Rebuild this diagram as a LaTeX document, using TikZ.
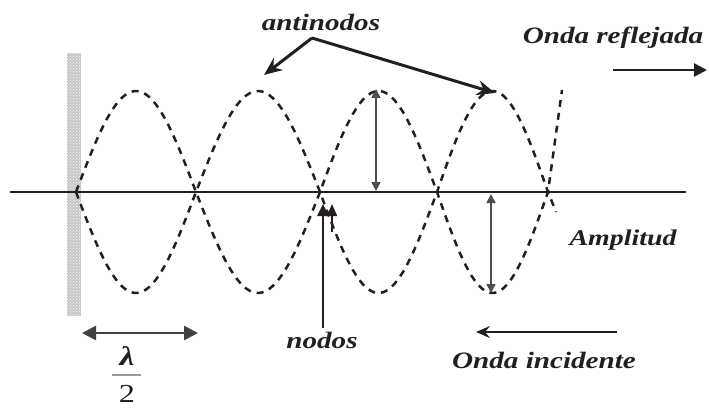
\documentclass[tikz,border=0pt]{standalone}
\usepackage{fontspec}
\newfontfamily\lbl{Liberation Serif}[FakeStretch=1.24]
\usetikzlibrary{arrows.meta,patterns}
\definecolor{ink}{HTML}{231F20}
\begin{document}
\begin{tikzpicture}[x=1pt,y=-1pt,
  lab/.style={font=\lbl\bfseries\itshape\fontsize{23.5}{27}\selectfont, text=ink, inner sep=0pt},
  wave/.style={line width=2.5pt, dash pattern=on 7pt off 6pt, ink},
  bigarrow/.style={line width=3pt, ink, -{Stealth[length=18pt,width=15pt]}},
  midarrow/.style={line width=2.6pt, ink, -{Triangle[length=13pt,width=13pt]}},
  amparrow/.style={line width=1.5pt, ink!80, {Triangle[length=9pt,width=9pt]}-{Triangle[length=9pt,width=9pt]}}]
\useasboundingbox (0,0) rectangle (709,409);

% wall
\fill[gray!45] (67,53) rectangle (81,316);
\fill[pattern=crosshatch dots, pattern color=white] (67,53) rectangle (81,316);

% axis
\coordinate (axL) at (10,192);
\coordinate (axR) at (686,192);
\draw[line width=2.4pt, ink] (axL) -- (axR);

% standing wave envelopes
\draw[wave] plot[domain=0:180,samples=40] ({76+0.66667*\x},{192-101*sin(\x)})
  -- plot[domain=0:180,samples=40] ({196+0.68889*\x},{192+101*sin(\x)})
  -- plot[domain=0:180,samples=40] ({320+0.65*\x},{192-101*sin(\x)})
  -- plot[domain=0:180,samples=40] ({437+0.61667*\x},{192+101*sin(\x)})
  -- (562,90);
\draw[wave] plot[domain=0:180,samples=40] ({76+0.66667*\x},{192+101*sin(\x)})
  -- plot[domain=0:180,samples=40] ({196+0.68889*\x},{192-101*sin(\x)})
  -- plot[domain=0:180,samples=40] ({320+0.65*\x},{192+101*sin(\x)})
  -- plot[domain=0:180,samples=40] ({437+0.61667*\x},{192-101*sin(\x)})
  -- (556,212);

% antinodos
\node[lab] (anti) at (321,22) {antinodos};
\coordinate (a0) at (312,38);
\coordinate (aL) at (264,75);
\coordinate (aR) at (495,93);
\draw[bigarrow] (a0) -- (aL);
\draw[bigarrow] (a0) -- (aR);

% onda reflejada
\node[lab] (refl) at (613,38) {Onda reflejada};
\coordinate (r0) at (613,70);
\coordinate (r1) at (707,70);
\draw[midarrow] (r0) -- (r1);

% amplitude arrows
\coordinate (u0) at (376,89);
\coordinate (u1) at (376,191);
\draw[amparrow] (u0) -- (u1);
\coordinate (l0) at (491,194);
\coordinate (l1) at (491,293);
\draw[amparrow] (l0) -- (l1);
\node[lab, font=\lbl\bfseries\itshape\fontsize{22.5}{26}\selectfont] (amp) at (623,240) {Amplitud};

% nodos
\node[lab] (nod) at (322,340) {nodos};
\coordinate (n0) at (323,328);
\coordinate (n1) at (323,204);
\coordinate (m0) at (332,232);
\coordinate (m1) at (332,204);
\draw[line width=2.5pt, ink, -{Triangle[length=12pt,width=11pt]}] (n0) -- (n1);
\draw[line width=2pt, ink, -{Triangle[length=12pt,width=10pt]}] (m0) -- (m1);

% onda incidente
\node[lab] (inc) at (544,360) {Onda incidente};
\coordinate (i0) at (617,332);
\coordinate (i1) at (476,332);
\draw[line width=2.6pt, ink, -{Stealth[length=14pt,width=12pt,inset=5pt]}] (i0) -- (i1);

% lambda/2
\coordinate (h0) at (82,333);
\coordinate (h1) at (198,333);
\draw[line width=2.6pt, ink!85, {Triangle[length=14pt,width=14pt]}-{Triangle[length=14pt,width=14pt]}] (h0) -- (h1);
\node[font=\lbl\bfseries\itshape\fontsize{27}{31}\selectfont, text=ink, inner sep=0pt] (lam) at (127,356) {λ};
\coordinate (b0) at (112,375);
\coordinate (b1) at (141,375);
\draw[line width=1.6pt, gray!80] (b0) -- (b1);
\node[font=\lbl\fontsize{26}{30}\selectfont, text=ink, inner sep=0pt] (two) at (127,394) {2};
\end{tikzpicture}
\end{document}
